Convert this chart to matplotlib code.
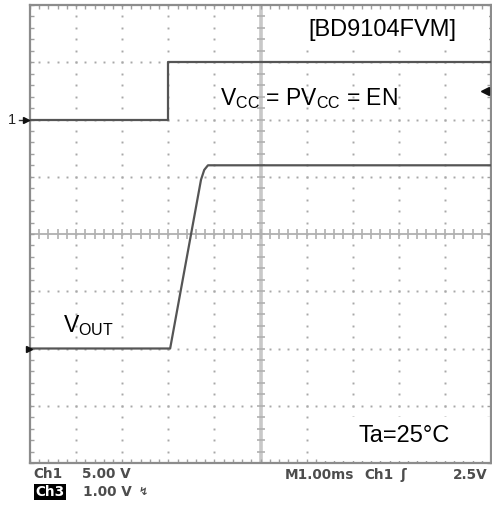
import numpy as np
import matplotlib
matplotlib.use("Agg")
import matplotlib.pyplot as plt
from matplotlib.patches import Rectangle

# scope settings (volts per division, trace position in divisions)
ch1_vdiv = 5.0
ch1_pos = 2.0
ch3_vdiv = 1.0
ch3_pos = -2.0
trig_level = 2.5

# Ch1: VCC = PVCC = EN step (time in ms, volts)
t_ch1 = [0.0, 3.0, 3.0, 10.0]
v_ch1 = [0.0, 0.0, 5.0, 5.0]

# Ch3: VOUT soft start
t_vout = [0.0, 3.04, 3.71, 3.78, 3.86, 10.0]
v_vout = [0.0, 0.0, 2.95, 3.12, 3.2, 3.2]

plt.rcParams['mathtext.fontset'] = 'custom'
plt.rcParams['mathtext.rm'] = 'Liberation Sans'
plt.rcParams['font.family'] = ['Liberation Sans', 'DejaVu Sans']

W, H = 492, 508
fig = plt.figure(figsize=(W / 100, H / 100), dpi=100)
ax = fig.add_axes([30 / W, 45 / H, 461 / W, 458 / H])
ax.set_xlim(0, 10)
ax.set_ylim(-4, 4)

# graticule
dot = '#a8a8a8'
for xv in [1, 2, 3, 4, 6, 7, 8, 9]:
    yy = np.arange(-4, 4.001, 0.2)
    ax.plot(np.full(len(yy), xv), yy, ls='none', marker='s', ms=1.4, mec='none', color=dot, zorder=1)
for yv in [-3, -2, -1, 1, 2, 3]:
    xx = np.arange(0, 10.001, 0.2)
    ax.plot(xx, np.full(len(xx), yv), ls='none', marker='s', ms=1.4, mec='none', color=dot, zorder=1)

ax.axvline(5, color='#c8c8c8', lw=2.6, zorder=1)
ax.axhline(0, color='#b0b0b0', lw=1.3, zorder=1)
yy = np.arange(-4, 4.001, 0.2)
ax.plot(np.full(len(yy), 5), yy, ls='none', marker='_', ms=6, mew=1.2, color='#b0b0b0', zorder=1)
xx = np.arange(0, 10.001, 0.2)
ax.plot(xx, np.zeros(len(xx)), ls='none', marker='|', ms=7, mew=1.2, color='#b0b0b0', zorder=1)

for s in ax.spines.values():
    s.set_color('#8c8c8c')
    s.set_linewidth(1.6)
ax.set_xticks(np.arange(0, 10.001, 0.2))
ax.set_yticks(np.arange(-4, 4.001, 0.2))
ax.tick_params(direction='in', length=2.8, width=1, color='#a0a0a0',
               top=True, right=True, labelbottom=False, labelleft=False)

# white label boxes over the graticule
ax.add_patch(Rectangle((5.65, 3.3), 4.3, 0.62, facecolor='white', edgecolor='none', zorder=2.2))
ax.add_patch(Rectangle((6.25, -3.97), 3.72, 0.78, facecolor='white', edgecolor='none', zorder=2.2))

# traces
ax.plot(t_ch1, np.array(v_ch1) / ch1_vdiv + ch1_pos, color='#555555', lw=1.6, zorder=3)
ax.plot(t_vout, np.array(v_vout) / ch3_vdiv + ch3_pos, color='#555555', lw=1.6, zorder=3)

# channel / trigger markers
ax.text(-0.4, ch1_pos, '1', ha='center', va='center', fontsize=10.5, color='#222222', clip_on=False)
ax.plot([-0.24, -0.02], [ch1_pos, ch1_pos], color='#333333', lw=1, clip_on=False, zorder=4)
ax.plot([-0.08], [ch1_pos], marker='>', ms=5, color='#111111', clip_on=False, zorder=4)
ax.plot([-0.03], [ch3_pos], marker='>', ms=5, color='#111111', clip_on=False, zorder=4)
ax.plot([9.87], [trig_level / ch1_vdiv + ch1_pos], marker='<', ms=6, color='#111111', clip_on=False, zorder=4)

# labels
ax.text(7.65, 3.46, '[BD9104FVM]', ha='center', va='baseline', fontsize=17, zorder=5)
ax.text(4.12, 2.25, r'V$_{\mathrm{CC}}$ = PV$_{\mathrm{CC}}$ = EN', ha='left', va='baseline', fontsize=16.5, zorder=5)
ax.text(0.72, -1.71, r'V$_{\mathrm{OUT}}$', ha='left', va='baseline', fontsize=16.5, zorder=5)
ax.text(7.12, -3.63, 'Ta=25°C', ha='left', va='baseline', fontsize=17, zorder=5)

# scope readout
def px(x, y):
    return x / W, 1 - y / H

ro = dict(family=['DejaVu Sans Condensed', 'Liberation Sans Narrow', 'DejaVu Sans'],
          fontweight='bold', fontsize=9.8, color='#4d4d4d', va='baseline')
fig.text(*px(33, 478), 'Ch1', **ro)
fig.text(*px(82, 478), '5.00 V', **ro)
fig.text(*px(35, 496), 'Ch3', bbox=dict(facecolor='black', edgecolor='none', pad=1), **{**ro, 'color': 'white'})
fig.text(*px(83, 496), '1.00 V', **ro)
fig.text(*px(139, 495), '↯', **{**ro, 'fontsize': 8})
fig.text(*px(285, 479), 'M1.00ms', **ro)
fig.text(*px(364, 479), 'Ch1', **ro)
fig.text(*px(401, 479), 'ʃ', **ro)
fig.text(*px(487, 479), '2.5V', ha='right', **ro)

fig.savefig('out.png', dpi=100)
